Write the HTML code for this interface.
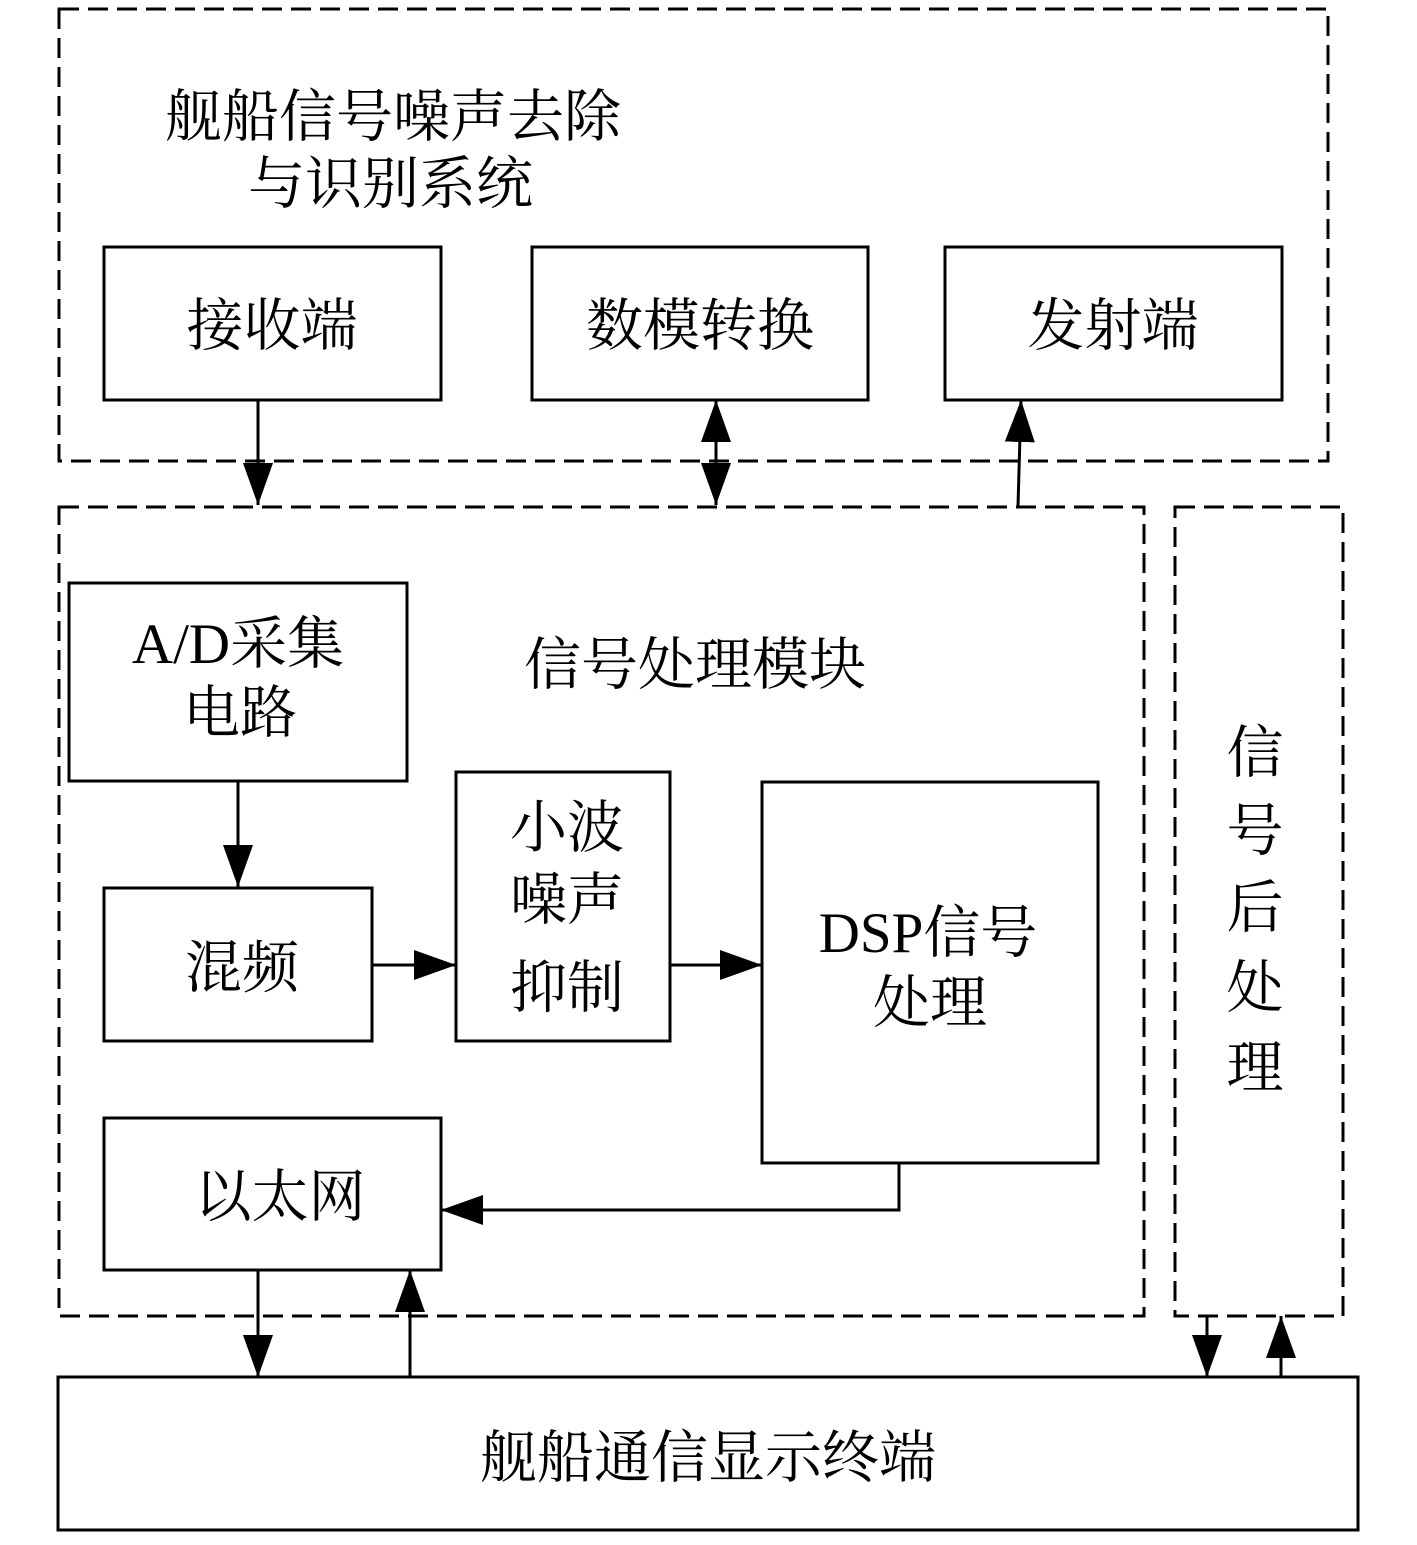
<!DOCTYPE html>
<html><head><meta charset="utf-8"><style>
html,body{margin:0;padding:0;background:#fff}
text{font-family:"Liberation Serif","Noto Serif CJK SC",serif;font-size:57px;fill:#000}
</style></head><body>
<svg width="1417" height="1540" viewBox="0 0 1417 1540" xmlns="http://www.w3.org/2000/svg">
<defs>
<marker id="a" markerWidth="42" markerHeight="30" refX="42" refY="15" orient="auto" markerUnits="userSpaceOnUse" viewBox="0 0 42 30"><path d="M0,0 L42,15 L0,30 Z" fill="#000"/></marker>
</defs>
<g fill="none" stroke="#000" stroke-width="3" stroke-dasharray="20,9">
<rect x="59" y="9" width="1269" height="452"/>
<rect x="59" y="507" width="1085" height="809"/>
<rect x="1175" y="507" width="168" height="809"/>
</g>
<g fill="none" stroke="#000" stroke-width="3">
<rect x="104" y="247" width="337" height="153"/>
<rect x="532" y="247" width="336" height="153"/>
<rect x="945" y="247" width="337" height="153"/>
<rect x="69" y="583" width="338" height="198"/>
<rect x="104" y="888" width="268" height="153"/>
<rect x="456" y="772" width="214" height="269"/>
<rect x="762" y="782" width="336" height="381"/>
<rect x="104" y="1118" width="337" height="152"/>
<rect x="58" y="1377" width="1300" height="153"/>
<line x1="258" y1="400" x2="258" y2="505" marker-end="url(#a)"/>
<line x1="716" y1="462" x2="716" y2="400" marker-end="url(#a)"/>
<line x1="716" y1="445" x2="716" y2="505" marker-end="url(#a)"/>
<line x1="1018" y1="506" x2="1021" y2="400" marker-end="url(#a)"/>
<line x1="238" y1="781" x2="238" y2="887" marker-end="url(#a)"/>
<line x1="372" y1="965" x2="456" y2="965" marker-end="url(#a)"/>
<line x1="670" y1="965" x2="762" y2="965" marker-end="url(#a)"/>
<polyline points="899,1163 899,1210 441,1210" marker-end="url(#a)"/>
<line x1="258" y1="1270" x2="258" y2="1377" marker-end="url(#a)"/>
<line x1="410" y1="1377" x2="410" y2="1270" marker-end="url(#a)"/>
<line x1="1207" y1="1316" x2="1207" y2="1377" marker-end="url(#a)"/>
<line x1="1281" y1="1377" x2="1281" y2="1316" marker-end="url(#a)"/>
</g>
<text x="165" y="136">舰船信号噪声去除</text>
<text x="248" y="203">与识别系统</text>
<text x="272" y="345" text-anchor="middle">接收端</text>
<text x="700" y="345" text-anchor="middle">数模转换</text>
<text x="1113" y="345" text-anchor="middle">发射端</text>
<text x="238" y="663" text-anchor="middle">A/D采集</text>
<text x="240" y="732" text-anchor="middle">电路</text>
<text x="695" y="684" text-anchor="middle">信号处理模块</text>
<text x="242" y="987" text-anchor="middle">混频</text>
<text x="567" y="847" text-anchor="middle">小波</text>
<text x="567" y="919" text-anchor="middle">噪声</text>
<text x="567" y="1007" text-anchor="middle">抑制</text>
<text x="928" y="952" text-anchor="middle">DSP信号</text>
<text x="930" y="1022" text-anchor="middle">处理</text>
<text x="280" y="1216" text-anchor="middle">以太网</text>
<text x="708" y="1477" text-anchor="middle">舰船通信显示终端</text>
<text x="1255" y="772" text-anchor="middle">信</text>
<text x="1255" y="850" text-anchor="middle">号</text>
<text x="1255" y="927" text-anchor="middle">后</text>
<text x="1255" y="1007" text-anchor="middle">处</text>
<text x="1255" y="1087" text-anchor="middle">理</text>
</svg>
</body></html>
